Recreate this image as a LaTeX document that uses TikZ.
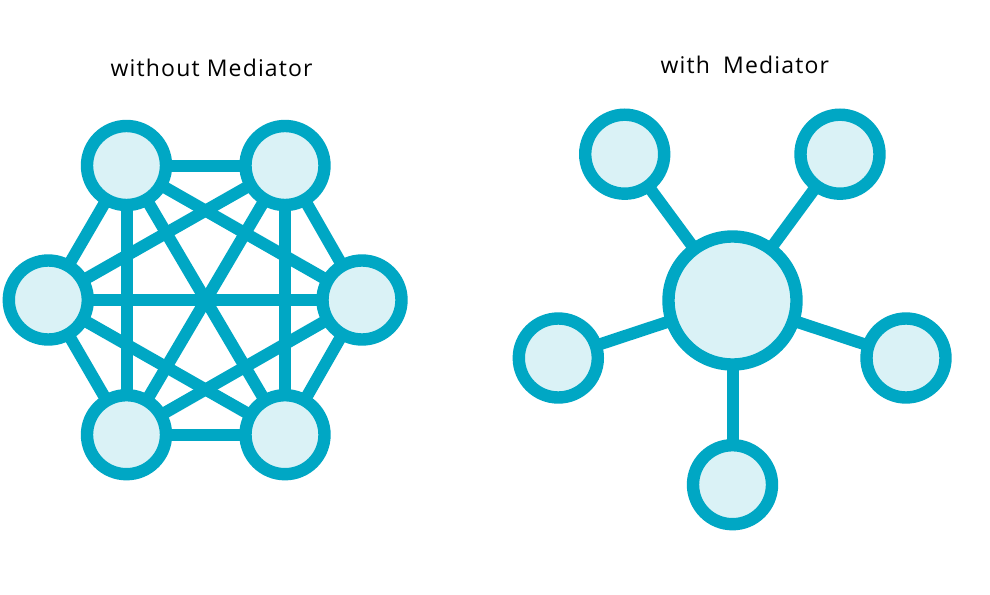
\documentclass[tikz,border=0pt]{standalone}
\usepackage{fontspec}
\setmainfont{Open Sans}
\newfontfamily\lblfont[LetterSpace=5]{Open Sans}
\definecolor{edgec}{HTML}{00A7C4}
\definecolor{fillc}{HTML}{DAF2F6}
\pgfdeclarelayer{edges}
\pgfsetlayers{edges,main}
\begin{document}
\begin{tikzpicture}[x=1pt,y=-1pt,
  nd/.style={circle,draw=edgec,fill=fillc,line width=12.4pt,minimum size=79pt,inner sep=0pt},
  hub/.style={nd,minimum size=128pt},
  ln/.style={draw=edgec,line width=12pt},
  lbl/.style={font=\lblfont\fontsize{23}{27}\selectfont,text=black,anchor=base west,inner sep=0pt}]
\useasboundingbox (0,0) rectangle (990,594);
\begin{pgfonlayer}{edges}
\fill[white] (0,0) rectangle (990,594);
\end{pgfonlayer}
% left: complete graph
\node[nd] (tl) at (126.5,165.5) {};
\node[nd] (tr) at (285,165.5) {};
\node[nd] (l)  at (48.3,300) {};
\node[nd] (r)  at (362,300) {};
\node[nd] (bl) at (126.5,434.7) {};
\node[nd] (br) at (285,434.7) {};
\begin{pgfonlayer}{edges}
\foreach \a/\b in {tl/tr,tl/l,tl/r,tl/bl,tl/br,tr/l,tr/r,tr/bl,tr/br,l/r,l/bl,l/br,r/bl,r/br,bl/br}
  \draw[ln] (\a.center) -- (\b.center);
\end{pgfonlayer}
% right: mediator
\node[hub] (m) at (732.5,300.5) {};
\node[nd] (m1) at (624.7,154.2) {};
\node[nd] (m2) at (840,154.2) {};
\node[nd] (m3) at (558.3,358) {};
\node[nd] (m4) at (906,358) {};
\node[nd] (m5) at (732.5,484.7) {};
\begin{pgfonlayer}{edges}
\foreach \b in {m1,m2,m3,m4,m5}
  \draw[ln] (m.center) -- (\b.center);
\end{pgfonlayer}
\node[lbl] (t1) at (110.5,76.7) {without Mediator};
\node[lbl] (t2) at (660.5,73.3) {with\hspace{6pt} Mediator};
\end{tikzpicture}
\end{document}
